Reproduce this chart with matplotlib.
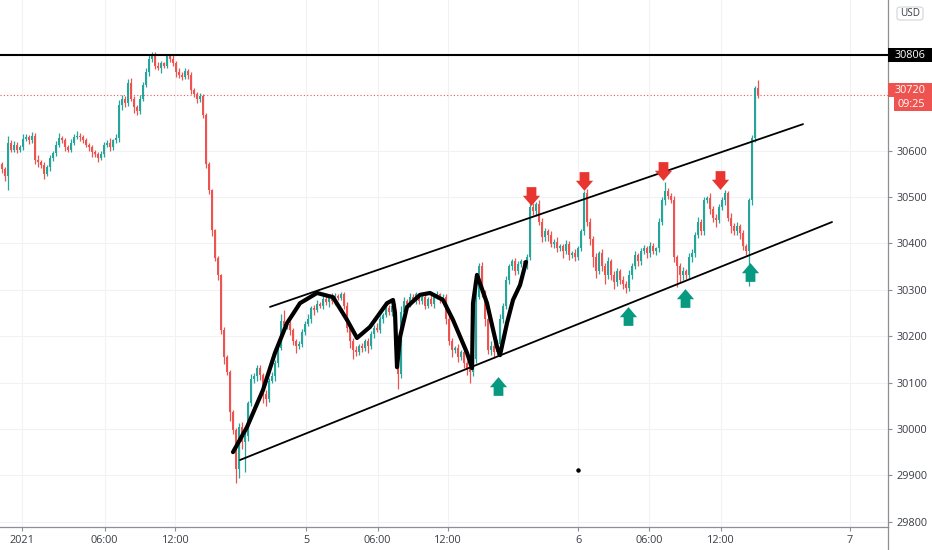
import matplotlib
matplotlib.use("Agg")
import matplotlib.pyplot as plt
import numpy as np
from matplotlib.path import Path
from matplotlib.patches import Rectangle, FancyBboxPatch
from matplotlib.lines import Line2D

plt.rcParams['font.family'] = ['Open Sans', 'DejaVu Sans']

# ---------------- data (15-min candles) ----------------
first_open = 30570
closes = [
    30560, 30545, 30617, 30602, 30612, 30602, 30607, 30625, 30629, 30622,
    30632, 30580, 30575, 30568, 30550, 30565, 30584, 30594, 30612, 30627,
    30622, 30607, 30602, 30617, 30629, 30632, 30629, 30622, 30612, 30607,
    30597, 30592, 30584, 30592, 30612, 30617, 30607, 30622, 30627, 30698,
    30712, 30703, 30745, 30712, 30693, 30686, 30712, 30741, 30769, 30798,
    30807, 30783, 30778, 30788, 30783, 30803, 30798, 30788, 30769, 30764,
    30759, 30771, 30764, 30731, 30721, 30712, 30717, 30677, 30572, 30514,
    30428, 30368, 30332, 30213, 30155, 30123, 30037, 29998, 29914, 30004,
    29971, 29985, 30055, 30108, 30113, 30132, 30117, 30075, 30065, 30104,
    30113, 30142, 30175, 30232, 30222, 30227, 30213, 30189, 30179, 30184,
    30208, 30227, 30237, 30261, 30256, 30270, 30266, 30280, 30273, 30285,
    30275, 30287, 30283, 30290, 30266, 30218, 30189, 30170, 30165, 30179,
    30175, 30189, 30179, 30204, 30218, 30213, 30237, 30246, 30261, 30251,
    30266, 30179, 30118, 30251, 30275, 30270, 30285, 30280, 30290, 30275,
    30285, 30266, 30280, 30270, 30285, 30290, 30280, 30285, 30237, 30189,
    30170, 30175, 30156, 30165, 30142, 30132, 30123, 30151, 30285, 30351,
    30294, 30237, 30170, 30179, 30165, 30184, 30237, 30265, 30322, 30351,
    30361, 30341, 30356, 30361, 30351, 30370, 30479, 30469, 30484, 30446,
    30413, 30427, 30418, 30399, 30404, 30389, 30394, 30384, 30399, 30375,
    30379, 30370, 30389, 30427, 30508, 30446, 30409, 30370, 30341, 30379,
    30351, 30332, 30361, 30332, 30317, 30341, 30322, 30313, 30303, 30332,
    30351, 30375, 30361, 30384, 30389, 30379, 30394, 30384, 30389, 30446,
    30493, 30512, 30503, 30493, 30370, 30351, 30332, 30341, 30332, 30370,
    30379, 30418, 30446, 30427, 30493, 30498, 30474, 30455, 30450, 30479,
    30493, 30508, 30455, 30437, 30427, 30437, 30422, 30394, 30384, 30493,
    30627, 30735, 30720,
]
up_wick = [
    6, 4, 15, 5, 8, 6, 4, 10, 6, 5,
    8, 6, 10, 5, 8, 4, 6, 5, 8, 10,
    5, 6, 4, 8, 6, 10, 5, 4, 6, 5,
    6, 4, 5, 8, 6, 5, 10, 4, 8, 10,
    8, 6, 10, 12, 6, 5, 8, 6, 10, 8,
    6, 5, 8, 6, 4, 5, 6, 8, 5, 10,
    6, 8, 5, 6, 4, 5, 8, 4, 3, 4,
    3, 4, 5, 3, 6, 4, 3, 4, 5, 8,
    10, 12, 6, 10, 8, 5, 6, 4, 8, 6,
    10, 6, 8, 15, 25, 8, 6, 5, 4, 6,
    8, 6, 10, 5, 6, 8, 4, 10, 6, 5,
    8, 6, 4, 6, 5, 8, 4, 6, 8, 5,
    6, 4, 8, 6, 5, 10, 6, 4, 8, 6,
    8, 6, 10, 15, 10, 6, 8, 5, 6, 4,
    8, 6, 5, 10, 6, 8, 4, 6, 5, 8,
    6, 4, 8, 5, 6, 4, 8, 10, 20, 6,
    8, 6, 5, 10, 6, 8, 10, 6, 8, 4,
    6, 8, 5, 6, 4, 8, 10, 8, 6, 10,
    8, 6, 5, 8, 6, 10, 5, 4, 8, 6,
    5, 8, 6, 4, 4, 10, 8, 6, 10, 5,
    8, 6, 10, 5, 8, 6, 4, 8, 6, 10,
    6, 8, 5, 6, 8, 5, 10, 6, 4, 8,
    6, 20, 8, 6, 10, 5, 6, 8, 4, 10,
    8, 6, 10, 6, 8, 5, 10, 6, 8, 5,
    6, 8, 5, 10, 6, 8, 4, 6, 5, 4,
    6, 5, 17,
]
down_wick = [
    8, 10, 30, 6, 5, 8, 4, 6, 5, 8,
    6, 8, 10, 6, 12, 5, 8, 6, 5, 4,
    6, 8, 5, 6, 4, 5, 8, 6, 5, 8,
    10, 6, 8, 5, 6, 4, 8, 5, 6, 8,
    10, 8, 6, 5, 12, 10, 8, 6, 5, 8,
    6, 8, 5, 10, 6, 5, 8, 6, 10, 8,
    6, 5, 10, 8, 6, 10, 8, 6, 10, 8,
    12, 6, 10, 8, 15, 6, 20, 10, 31, 20,
    15, 64, 10, 6, 8, 10, 12, 20, 15, 8,
    6, 10, 8, 5, 8, 6, 10, 8, 15, 6,
    8, 5, 6, 8, 10, 5, 6, 8, 5, 10,
    6, 8, 5, 6, 8, 10, 15, 20, 8, 6,
    10, 8, 15, 6, 8, 5, 6, 8, 5, 6,
    8, 10, 32, 8, 6, 5, 8, 6, 10, 5,
    6, 8, 5, 6, 10, 5, 8, 6, 10, 8,
    15, 6, 12, 8, 10, 15, 24, 10, 8, 6,
    10, 15, 8, 10, 12, 6, 10, 8, 6, 10,
    8, 10, 6, 8, 10, 6, 5, 8, 10, 6,
    10, 8, 12, 6, 10, 8, 6, 15, 8, 10,
    6, 8, 5, 6, 10, 8, 12, 20, 15, 8,
    10, 20, 8, 10, 15, 8, 10, 12, 10, 6,
    8, 6, 10, 8, 6, 10, 8, 6, 10, 8,
    6, 10, 8, 6, 10, 46, 15, 10, 8, 6,
    10, 8, 6, 10, 8, 6, 10, 8, 15, 6,
    8, 10, 6, 15, 8, 10, 12, 8, 10, 75,
    10, 8, 6,
]

resistance_level = 30806
last_price = 30720
countdown = "09:25"
currency = "USD"

channel_upper_x = [89.33, 267.0]
channel_upper_y = [30263, 30657]
channel_lower_x = [79.33, 276.67]
channel_lower_y = [29933, 30446]

curve_x = [77.0, 81.67, 87.0, 91.0, 95.0, 99.33, 105.0, 110.33, 115.0, 118.33,
           122.67, 128.33, 130.33, 131.0, 131.67, 132.67, 135.0, 139.33, 142.67,
           147.0, 150.33, 155.0, 156.67, 157.0, 158.33, 161.67, 165.0, 166.0,
           168.33, 170.33, 172.67, 174.67]
curve_y = [29950, 30004, 30084, 30164, 30228, 30271, 30293, 30284, 30235, 30196,
           30220, 30271, 30278, 30250, 30133, 30198, 30263, 30289, 30293,
           30278, 30235, 30164, 30131, 30271, 30332, 30271, 30177, 30159,
           30228, 30278, 30310, 30360]

sell_x = [176.33, 194.0, 220.33, 239.33]
sell_y = [30502, 30534, 30556, 30537]
buy_x = [165.33, 208.67, 227.67, 249.33]
buy_y = [30093, 30243, 30282, 30338]

dot_x = [192.0]
dot_y = [29911]

xtick_pos = [6.67, 34.2, 57.8, 101.4, 125.2, 148.6, 192.0, 215.7, 239.5, 282.7]
xtick_labels = ["2021", "06:00", "12:00", "5", "06:00", "12:00", "6", "06:00", "12:00", "7"]
ytick_vals = [29800, 29900, 30000, 30100, 30200, 30300, 30400, 30500, 30600]

# ---------------- styling ----------------
UP = '#26a69a'
DOWN = '#ef5350'
AXIS = '#8c8f96'
TXT = '#3a3d45'
GRID = '#f0f2f6'
FS = 7.8

W, H = 932, 550
fig = plt.figure(figsize=(W / 100, H / 100), dpi=100)
fig.patch.set_facecolor('white')
ax = fig.add_axes([0, 23.3 / H, 888 / W, 526.7 / H])
ax.set_xlim(-0.667, 295.33)
ax.set_ylim(29789.2, 30924.6)

closes_a = np.array(closes, dtype=float)
opens_a = np.concatenate([[first_open], closes_a[:-1]])
highs = np.maximum(opens_a, closes_a) + np.array(up_wick)
lows = np.minimum(opens_a, closes_a) - np.array(down_wick)
xs = np.arange(len(closes_a))
cols = [UP if c >= o else DOWN for o, c in zip(opens_a, closes_a)]

ax.vlines(xs, lows, highs, colors=cols, lw=0.9, zorder=3)
body_h = np.maximum(np.abs(closes_a - opens_a), 1.5)
ax.bar(xs, body_h, bottom=np.minimum(opens_a, closes_a), width=0.78,
       color=cols, linewidth=0, zorder=4)

# horizontal levels
ax.axhline(resistance_level, color='black', lw=1.5, zorder=5)
ax.axhline(last_price, color=DOWN, lw=0.8, ls=(0, (1, 2)), zorder=2)

# channel
ax.plot(channel_upper_x, channel_upper_y, color='black', lw=1.3, zorder=6,
        solid_capstyle='round')
ax.plot(channel_lower_x, channel_lower_y, color='black', lw=1.3, zorder=6,
        solid_capstyle='round')

# hand drawn curve
ax.plot(curve_x, curve_y, color='black', lw=3.0, zorder=7,
        solid_joinstyle='round', solid_capstyle='round')
ax.plot(dot_x, dot_y, 'o', color='black', ms=2.2, zorder=7)

# arrows
down_verts = [(-0.26, 0.5), (0.26, 0.5), (0.26, 0.04), (0.46, 0.04), (0.0, -0.5),
              (-0.46, 0.04), (-0.26, 0.04), (-0.26, 0.5)]
codes = [Path.MOVETO] + [Path.LINETO] * 6 + [Path.CLOSEPOLY]
down_arrow = Path(down_verts, codes)
up_arrow = Path([(vx, -vy) for vx, vy in down_verts], codes)
ax.plot(sell_x, sell_y, ls='none', marker=down_arrow, ms=13.5, mew=0,
        color='#e8352f', zorder=8)
ax.plot(buy_x, buy_y, ls='none', marker=up_arrow, ms=13.5, mew=0,
        color='#089981', zorder=8)

# axes styling
for s in ['top', 'left']:
    ax.spines[s].set_visible(False)
ax.spines['right'].set_color(AXIS)
ax.spines['bottom'].set_color(AXIS)
ax.spines['right'].set_linewidth(0.9)
ax.spines['bottom'].set_linewidth(0.9)
ax.yaxis.tick_right()
ax.set_yticks(ytick_vals)
ax.set_yticklabels([str(v) for v in ytick_vals])
ax.set_xticks(xtick_pos)
ax.set_xticklabels(xtick_labels)
ax.tick_params(axis='y', direction='out', length=3, width=0.8, color=AXIS,
               pad=3, labelsize=FS, labelcolor=TXT)
ax.tick_params(axis='x', direction='out', length=3, width=0.8, color=AXIS,
               pad=3, labelsize=FS, labelcolor=TXT)
ax.grid(True, color=GRID, lw=0.8, zorder=0)
ax.set_axisbelow(True)

# right axis line continues to bottom of figure
fig.add_artist(Line2D([888 / W, 888 / W], [0, 23.3 / H], color=AXIS, lw=0.9))


def ypix(price):
    """pixel row (from top) of a price"""
    return H - ax.transData.transform((0, price))[1]


def fig_rect(x0, y0, x1, y1, **kw):
    return Rectangle((x0 / W, 1 - y1 / H), (x1 - x0) / W, (y1 - y0) / H,
                     transform=fig.transFigure, **kw)


# price labels on right axis
yr = ypix(resistance_level)
fig.add_artist(fig_rect(888, yr - 7, 932, yr + 7, facecolor='black', edgecolor='none'))
fig.text(895 / W, 1 - yr / H, str(resistance_level), color='white', fontsize=FS,
         va='center', ha='left')

yl = ypix(last_price)
fig.add_artist(fig_rect(888, yl - 11.5, 932, yl + 2.5, facecolor=DOWN, edgecolor='none'))
fig.text(895 / W, 1 - (yl - 4.5) / H, str(last_price), color='white', fontsize=FS,
         va='center', ha='left')
fig.add_artist(fig_rect(894, yl + 2.5, 932, yl + 16.5, facecolor=DOWN, edgecolor='none'))
fig.text(897 / W, 1 - (yl + 9.5) / H, countdown, color='white', fontsize=FS,
         va='center', ha='left')

# currency button
fig.add_artist(FancyBboxPatch((897 / W, 1 - 20 / H), 26 / W, 13 / H,
                              boxstyle='round,pad=0,rounding_size=0.004',
                              transform=fig.transFigure, facecolor='white',
                              edgecolor='#d1d4dc', lw=0.8))
fig.text(910 / W, 1 - 13.5 / H, currency, color=TXT, fontsize=7.2,
         va='center', ha='center')

fig.savefig('out.png', dpi=100)
